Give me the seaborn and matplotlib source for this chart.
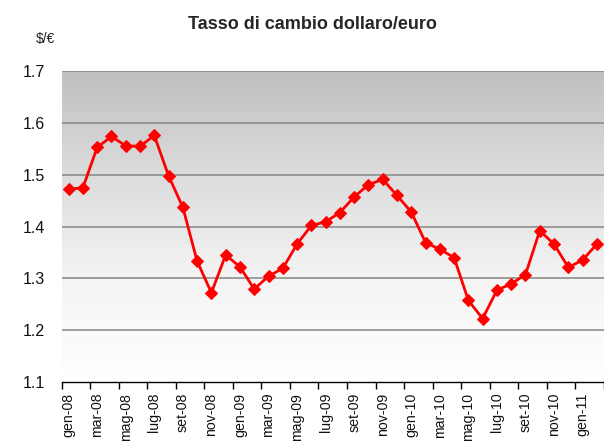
import numpy as np
import pandas as pd
import matplotlib
matplotlib.use("Agg")
import matplotlib.pyplot as plt
from matplotlib.colors import LinearSegmentedColormap
import seaborn as sns

# monthly dollar/euro rate, gen-08 .. feb-11
months = ["gen", "feb", "mar", "apr", "mag", "giu", "lug", "ago", "set", "ott", "nov", "dic"]
years = ["08", "09", "10", "11"]
periods = [f"{m}-{y}" for y in years for m in months][:38]
rate = [1.472, 1.475, 1.553, 1.574, 1.556, 1.555, 1.576, 1.498, 1.437, 1.333,
        1.272, 1.345, 1.322, 1.279, 1.304, 1.319, 1.366, 1.402, 1.409, 1.427,
        1.457, 1.481, 1.491, 1.460, 1.428, 1.369, 1.356, 1.340, 1.257, 1.222,
        1.277, 1.289, 1.307, 1.392, 1.366, 1.321, 1.335, 1.366]

df = pd.DataFrame({"idx": range(len(rate)), "periodo": periods, "cambio": rate})

sns.set_style("white")
plt.rcParams["font.family"] = ["Liberation Sans", "DejaVu Sans"]

fig = plt.figure(figsize=(6.04, 4.41), dpi=100)
ax = fig.add_axes([61.5 / 604, 1 - 381.7 / 441, 1 - 61.5 / 604, (381.7 - 71.3) / 441])

# grey gradient background (dark on top, white at bottom)
grad = np.linspace(0, 1, 256).reshape(-1, 1)
cmap = LinearSegmentedColormap.from_list("bg", ["#ffffff", "#f4f4f4", "#dcdcdc", "#c0c0c0"])
ax.imshow(grad, extent=[-0.5, len(rate) - 0.5, 1.1, 1.7], origin="lower",
          aspect="auto", cmap=cmap, zorder=0)

for yv in [1.2, 1.3, 1.4, 1.5, 1.6, 1.7]:
    ax.axhline(yv, color="#858585", lw=1.1, zorder=1)

sns.lineplot(data=df, x="idx", y="cambio", ax=ax, color="#ff0000", lw=2,
             marker="D", markersize=6.5, markeredgecolor="#ff0000", zorder=3)

ax.set_xlim(-0.5, len(rate) - 0.5)
ax.set_ylim(1.1, 1.7)
ax.set_yticks([1.1, 1.2, 1.3, 1.4, 1.5, 1.6, 1.7])
ax.set_yticklabels(["1.1", "1.2", "1.3", "1.4", "1.5", "1.6", "1.7"])
ax.tick_params(axis="y", length=0, pad=12, labelsize=11.5, labelcolor="#111111")

ax.set_xticks(range(0, len(rate), 2))
ax.set_xticklabels(periods[::2], rotation=90)
ax.set_xticks(np.arange(-0.5, len(rate), 2), minor=True)
ax.tick_params(axis="x", which="major", length=0, pad=8, labelsize=10.2, labelcolor="#111111")
ax.tick_params(axis="x", which="minor", length=5, width=1, color="black", direction="out", bottom=True)
ax.set_xlabel("")
ax.set_ylabel("")

for s in ["left", "right", "top"]:
    ax.spines[s].set_visible(False)
ax.spines["bottom"].set_color("black")
ax.spines["bottom"].set_linewidth(1)
ax.spines["bottom"].set_zorder(4)

fig.text(312 / 604, 1 - 29 / 441, "Tasso di cambio dollaro/euro", ha="center",
         va="baseline", fontsize=13, fontweight="bold")
fig.text(45 / 604, 1 - 39 / 441, "$/€", ha="center", va="center", fontsize=10)

fig.savefig("out.png", dpi=100)
